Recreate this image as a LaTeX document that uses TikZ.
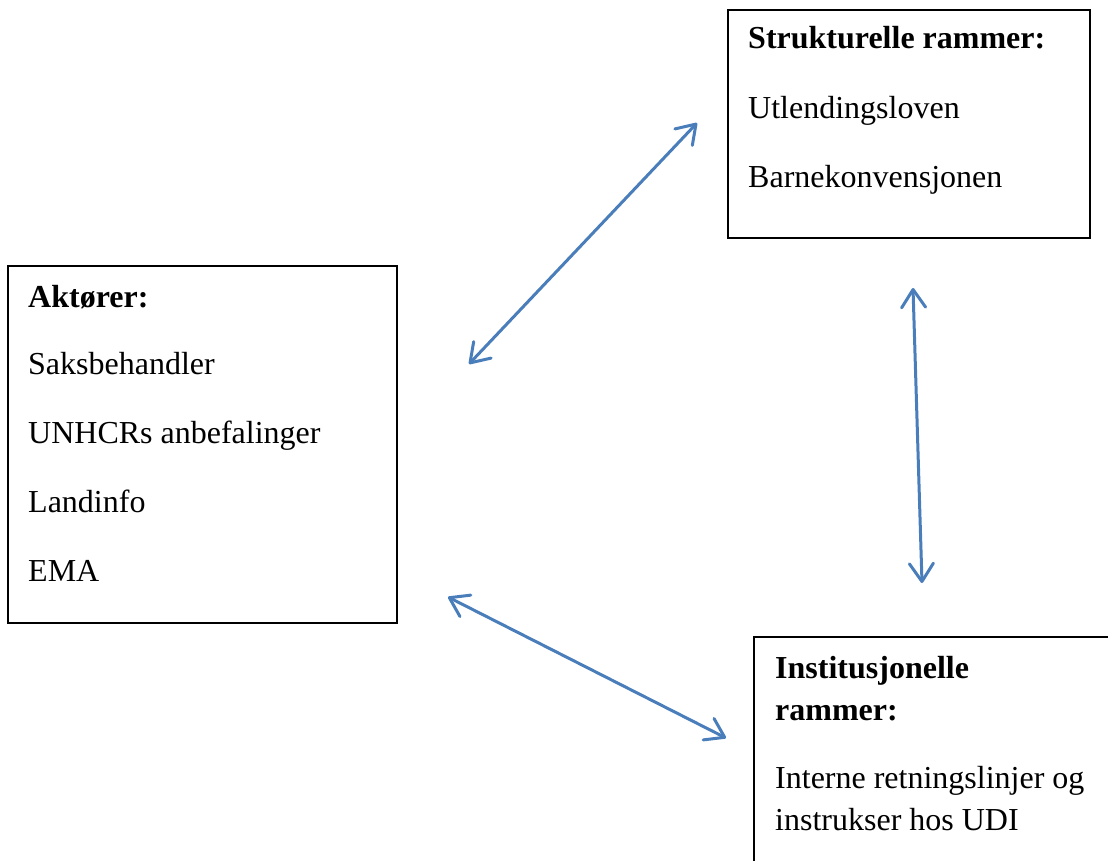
\documentclass[tikz,border=0pt]{standalone}
\usepackage{fontspec}
\setmainfont{Liberation Serif}
\usetikzlibrary{arrows.meta}
\definecolor{arrowblue}{RGB}{74,126,187}
\tikzset{
  box/.style={draw, line width=1.5pt, anchor=north west, inner sep=0pt},
  txt/.style={anchor=base west, inner sep=0pt, font=\fontsize{32}{38}\selectfont},
  head/.style={txt, font=\fontsize{32}{38}\selectfont\bfseries},
  link/.style={arrowblue, line width=3pt, line cap=round,
    {Straight Barb[length=18pt,width=24pt,round]}-{Straight Barb[length=18pt,width=24pt,round]}}
}
\begin{document}
\begin{tikzpicture}[x=1pt,y=-1pt]
      \useasboundingbox (0,0) rectangle (1108,860);
      % boxes
      \node[box, minimum width=362pt, minimum height=228pt] (struk) at (727,9) {};
      \node[box, minimum width=389pt, minimum height=357pt] (akt) at (7,265) {};
      \node[box, minimum width=380pt, minimum height=250pt] (inst) at (753,636) {};
      % texts
      \draw
        (748,48) node[head] (strukhead){Strukturelle rammer:}
        (748,118) node[txt] (utl){Utlendingsloven}
        (748,187) node[txt] (barn){Barnekonvensjonen};
      \draw
        (28,307) node[head] (akthead){Aktører:}
        (28,374) node[txt] (saks){Saksbehandler}
        (28,443) node[txt] (unhcr){UNHCRs anbefalinger}
        (28,512) node[txt] (land){Landinfo}
        (28,581) node[txt] (ema){EMA};
      \draw
        (775,678) node[head] (insthead){Institusjonelle}
        (775,720) node[head] (insthead2){rammer:}
        (775,788) node[txt] (interne){Interne retningslinjer og}
        (775,830) node[txt] (instr){instrukser hos UDI};
      % arrow ends
      \coordinate (aktNE) at (469,364);
      \coordinate (strukSW) at (697,123);
      \coordinate (strukS) at (913,288);
      \coordinate (instN) at (922,583);
      \coordinate (aktSE) at (448,597);
      \coordinate (instW) at (726,738);
      \begin{scope}[link]
        \draw (aktNE) to (strukSW);
        \draw (strukS) to (instN);
        \draw (aktSE) to (instW);
      \end{scope}
    \end{tikzpicture}
\end{document}
